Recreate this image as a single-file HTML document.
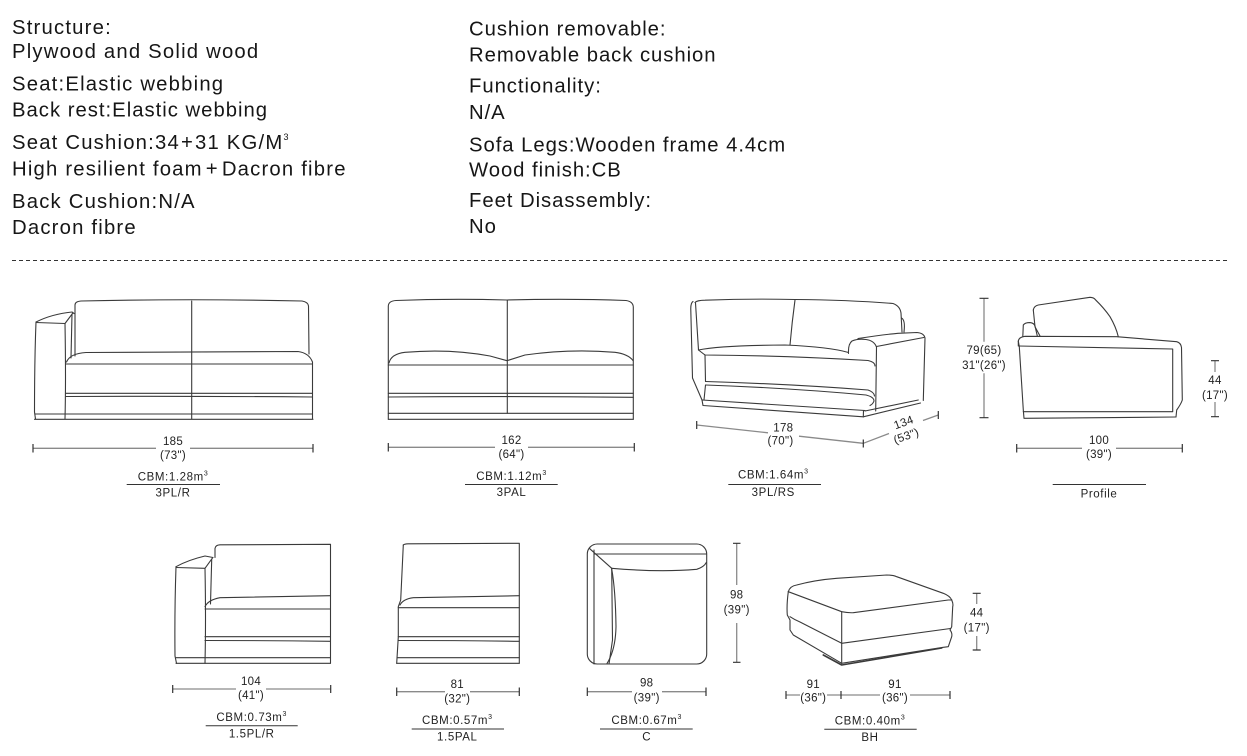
<!DOCTYPE html>
<html><head><meta charset="utf-8"><style>
html,body{margin:0;padding:0;background:#fff;}
svg{display:block;}
.t{font-family:"Liberation Sans",sans-serif;font-size:20.3px;fill:#161616;letter-spacing:1.2px;}
.r{letter-spacing:0.95px;}
.d{font-family:"Liberation Sans",sans-serif;font-size:11.5px;fill:#222;text-anchor:middle;letter-spacing:0.3px;}
.c{font-family:"Liberation Sans",sans-serif;font-size:11.5px;fill:#222;text-anchor:middle;letter-spacing:0.6px;}
.s{stroke:#3a3a3a;stroke-width:1.1;fill:none;stroke-linejoin:round;stroke-linecap:round;}
.dm{stroke:#8a8a8a;stroke-width:1.3;fill:none;}
.tk{stroke:#333;stroke-width:1.2;fill:none;}
.ul{stroke:#333;stroke-width:1;fill:none;}
</style></head><body>
<svg width="1247" height="756" viewBox="0 0 1247 756" xmlns="http://www.w3.org/2000/svg">
<!-- Left column text -->
<text class="t" x="12" y="34">Structure:</text>
<text class="t" x="12" y="58">Plywood and Solid wood</text>
<text class="t" x="12" y="90.5">Seat:Elastic webbing</text>
<text class="t" x="12" y="116.5" style="letter-spacing:1px">Back rest:Elastic webbing</text>
<text class="t" x="12" y="149">Seat Cushion:34<tspan dx="1">+</tspan><tspan dx="1">31 KG/M</tspan><tspan font-size="9" dy="-9">3</tspan></text>
<text class="t" x="12" y="175.5">High resilient foam<tspan dx="3">+</tspan><tspan dx="3">Dacron fibre</tspan></text>
<text class="t" x="12" y="208">Back Cushion:N/A</text>
<text class="t" x="12" y="234">Dacron fibre</text>
<!-- Right column text -->
<text class="t r" x="469" y="35.5">Cushion removable:</text>
<text class="t r" x="469" y="61.5">Removable back cushion</text>
<text class="t r" x="469" y="92.5">Functionality:</text>
<text class="t r" x="469" y="119">N/A</text>
<text class="t r" x="469" y="151.5">Sofa Legs:Wooden frame 4.4cm</text>
<text class="t r" x="469" y="176.5">Wood finish:CB</text>
<text class="t r" x="469" y="207">Feet Disassembly:</text>
<text class="t r" x="469" y="233">No</text>
<!-- dashed separator -->
<line x1="12" y1="260.5" x2="1229" y2="260.5" stroke="#333" stroke-width="1" stroke-dasharray="4,3"/>

<!-- ===== 3PL/R ===== -->
<g class="s">
<path d="M36,322 Q34.5,360 34.5,412 L35.5,419"/>
<path d="M36,322 Q52,314 72,312 L74,313.5"/>
<path d="M36,322.5 L65,323.5 L72.5,313.5"/>
<path d="M65,323.5 Q66,380 65,419"/>
<path d="M72,314 L71,358"/>
<path d="M75,356 L75,305 Q75,301.5 81,301 Q190,298.5 302,301 Q308,302 308.5,306 L309,354"/>
<path d="M66.5,362 Q70,353.5 86,352.5 L298,351.5 Q309,353 312.5,362 L312.5,419"/>
<line x1="66" y1="364" x2="312.5" y2="364"/>
<line x1="66" y1="393.3" x2="312.5" y2="393.3"/>
<path d="M66,396.5 Q190,396 312.5,397"/>
<line x1="35" y1="414" x2="312.5" y2="414"/>
<line x1="34.5" y1="419.3" x2="313" y2="419.3"/>
<line x1="191.7" y1="301" x2="191.7" y2="419"/>
</g>
<path class="dm" d="M33,448.3 H156 M190,448.3 H313"/>
<path class="tk" d="M33,444 V452.5 M313,444 V452.5"/>
<text class="d" x="173" y="445">185</text>
<text class="d" x="173" y="459">(73")</text>
<text class="c" x="173" y="480.5">CBM:1.28m<tspan font-size="7" dy="-5">3</tspan></text>
<line class="ul" x1="126.7" y1="484.5" x2="220" y2="484.5"/>
<text class="c" x="173" y="496.5">3PL/R</text>

<!-- ===== 3PAL ===== -->
<g class="s">
<path d="M388.3,419.3 L388.3,306 Q388.5,301 396,300.5 Q450,298.5 507,300 Q570,298.5 626,300.5 Q633,301.5 633.3,307 L633.3,419.3"/>
<line x1="507.3" y1="300" x2="507.3" y2="413.3"/>
<path d="M389,363 Q391,354 405,352.3 Q450,348.5 490,356 L507,360.7 L525,355 Q570,348.5 615,352.3 Q628,354 633,360.5"/>
<line x1="388.3" y1="365" x2="633.3" y2="365"/>
<line x1="388.3" y1="393.3" x2="633.3" y2="393.3"/>
<path d="M388.3,397 Q510,396 633.3,397.3"/>
<line x1="388.3" y1="413.3" x2="633.3" y2="413.3"/>
<line x1="388.3" y1="419.3" x2="633.3" y2="419.3"/>
</g>
<path class="dm" d="M388.3,447.3 H495 M528,447.3 H634.3"/>
<path class="tk" d="M388.3,443 V451.5 M634.3,443 V451.5"/>
<text class="d" x="511.5" y="444">162</text>
<text class="d" x="511.5" y="458">(64")</text>
<text class="c" x="511.5" y="480">CBM:1.12m<tspan font-size="7" dy="-5">3</tspan></text>
<line class="ul" x1="465" y1="484.5" x2="557.7" y2="484.5"/>
<text class="c" x="511.5" y="496">3PAL</text>

<!-- ===== 3PL/RS ===== -->
<g class="s">
<path d="M693,301.5 Q690.5,303 690.8,310 L692.5,378 L702,400"/>
<path d="M695,302.5 Q697,300.3 705,300.2 Q750,298.5 795,299.5"/>
<path d="M695.5,303 L698.5,350"/>
<path d="M795,300 Q792,322 790,345"/>
<path d="M795,299.5 Q850,300 893,303.5 Q900,306 901,313 L902,332"/>
<path d="M901.5,318 Q905.5,320 904,332"/>
<path d="M698.5,350 Q703,353.5 705,355 Q785,355.5 868,360.5 Q875,362 875,366"/>
<path d="M698.5,350 Q720,345.5 785,345 Q830,347 848.5,352.5"/>
<path d="M705,355 L705.5,381.5"/>
<path d="M705.5,381.5 Q790,384 868,390 Q874,392 874.5,396"/>
<path d="M705.5,385 Q790,388 866,395 Q874,397 874,401 Q873,404 870,405.5"/>
<path d="M705.5,385 L704,400"/>
<path d="M702,400 L865,410.5"/>
<path d="M702,400 L703,405.5 L863.3,416.8"/>
<path d="M863.5,410.5 L863.3,416.8"/>
<path d="M865,411 L918.3,400"/>
<path d="M863.3,416.8 L920.5,403"/>
<path d="M848.5,353.5 Q848,344 852,341 Q858,338.5 866,339.5 Q874,340.5 876.5,347 L875.7,411"/>
<path d="M858,338.6 Q880,335 898,333.3 L917,332.5 Q924,333 925,338 L923.3,400.5"/>
<path d="M876.5,346.5 L923.8,337.5"/>
</g>
<path class="dm" d="M696.7,425 L768,432.8 M799,436.2 L863.3,443.3"/>
<path class="dm" d="M863.3,443.3 L889,433.5 M923,420.5 L938.3,415"/>
<path class="tk" d="M696.7,421 V429 M863.3,439.5 V447.5 M938.3,411 V419"/>
<text class="d" x="783.3" y="431.5">178</text>
<text class="d" x="780.5" y="444.5">(70")</text>
<text class="d" transform="translate(905,426) rotate(-20)" x="0" y="0">134</text>
<text class="d" transform="translate(907.5,439.5) rotate(-20)" x="0" y="0">(53")</text>
<text class="c" x="773.3" y="478.5">CBM:1.64m<tspan font-size="7" dy="-5">3</tspan></text>
<line class="ul" x1="728.3" y1="484.5" x2="821" y2="484.5"/>
<text class="c" x="773.3" y="496">3PL/RS</text>

<!-- ===== Profile ===== -->
<g class="s">
<path d="M1033.3,310 Q1034,306 1038.3,305 L1090,297.3 Q1094,297.5 1095.5,299.8 Q1104,308 1110,316.7 Q1116,327 1118.3,336.7"/>
<path d="M1033.3,310 L1035,326.7 L1040,336"/>
<path d="M1022.8,336.7 L1023.3,325 Q1025,322.6 1030,322.6 Q1034,323 1035,326 L1037.3,336"/>
<path d="M1018.3,346 L1018.3,341 Q1019,337 1025,336.3 L1116.7,336.7 L1176.7,341.7 Q1181,343 1181.5,347.5 L1182.3,400 Q1181,404 1176.7,410 L1176,417"/>
<path d="M1018.3,341 L1019.3,346.7 L1023.3,410 L1024,418.3 L1176,417"/>
<path d="M1018.5,346 L1172.7,349 L1172.7,411.7 L1023.3,411.7"/>
</g>
<path class="dm" d="M984,298.3 V341.7 M984,373.3 V417.7"/>
<path class="tk" d="M979.5,298.3 H988.5 M979.5,417.7 H988.5"/>
<text class="d" x="984" y="354">79(65)</text>
<text class="d" x="984" y="369">31"(26")</text>
<path class="dm" d="M1215,360.7 V372 M1215,402 V416.7"/>
<path class="tk" d="M1211,360.7 H1219 M1211,416.7 H1219"/>
<text class="d" x="1215" y="384">44</text>
<text class="d" x="1215" y="399">(17")</text>
<path class="dm" d="M1016.7,448.3 H1082 M1116,448.3 H1182.3"/>
<path class="tk" d="M1016.7,444 V452.5 M1182.3,444 V452.5"/>
<text class="d" x="1099" y="444">100</text>
<text class="d" x="1099" y="458">(39")</text>
<line class="ul" x1="1052.7" y1="484.5" x2="1146" y2="484.5"/>
<text class="c" x="1099" y="497.5">Profile</text>

<!-- ===== 1.5PL/R ===== -->
<g class="s">
<path d="M176,566.7 Q174.5,610 175,656 L176.5,663.3"/>
<path d="M176,566.7 Q188,560 205,556 L213,557.5"/>
<path d="M176,567.5 L205,568.3 L212.7,557.7"/>
<path d="M205,568.3 Q206,620 205,663.3"/>
<path d="M211.7,559.5 L210.5,604"/>
<path d="M215,557.5 L215,548.5 Q215.5,545 220,544.8 L330.5,544.3 L330.5,663.3"/>
<path d="M205,606.7 Q208,600 220,597.7 L330.5,595.7"/>
<line x1="205" y1="609" x2="330.5" y2="609"/>
<line x1="205" y1="636.7" x2="330.5" y2="636.7"/>
<path d="M205,640.5 Q270,640.5 330.5,641.3"/>
<line x1="176" y1="657.7" x2="330.5" y2="657.7"/>
<line x1="176" y1="663.3" x2="330.5" y2="663.3"/>
</g>
<path class="dm" d="M172.7,689 H236 M266,689 H330.7"/>
<path class="tk" d="M172.7,685 V693 M330.7,685 V693"/>
<text class="d" x="251" y="685">104</text>
<text class="d" x="251" y="699">(41")</text>
<text class="c" x="251.7" y="721">CBM:0.73m<tspan font-size="7" dy="-5">3</tspan></text>
<line class="ul" x1="205.7" y1="725.7" x2="297.7" y2="725.7"/>
<text class="c" x="251.7" y="737.7">1.5PL/R</text>

<!-- ===== 1.5PAL ===== -->
<g class="s">
<path d="M403.3,545 L400.7,600 L398.3,606.7 L398.3,636.7 L396.7,663.3"/>
<path d="M403.3,545 Q404,544 408,543.8 L519.3,543.3 L519.3,663.3"/>
<path d="M400,605 Q403,599 413.3,597.7 L519.3,595.7"/>
<line x1="398.3" y1="607.7" x2="519.3" y2="607.7"/>
<line x1="398.3" y1="636.7" x2="519.3" y2="636.7"/>
<path d="M398.3,640.5 Q460,640.5 519.3,641.3"/>
<line x1="397.5" y1="657.7" x2="519.3" y2="657.7"/>
<line x1="396.7" y1="663.3" x2="519.3" y2="663.3"/>
</g>
<path class="dm" d="M396.7,691.7 H445 M470,691.7 H519.3"/>
<path class="tk" d="M396.7,687.5 V696 M519.3,687.5 V696"/>
<text class="d" x="457.3" y="688">81</text>
<text class="d" x="457.3" y="702.5">(32")</text>
<text class="c" x="457.3" y="724">CBM:0.57m<tspan font-size="7" dy="-5">3</tspan></text>
<line class="ul" x1="411.7" y1="729" x2="504" y2="729"/>
<text class="c" x="457.3" y="740.5">1.5PAL</text>

<!-- ===== C ===== -->
<g class="s">
<rect x="587.3" y="544" width="119.4" height="120" rx="10" ry="10"/>
<line x1="594" y1="550" x2="594" y2="664"/>
<line x1="594" y1="554" x2="706.5" y2="554"/>
<line x1="589.3" y1="548.3" x2="611.7" y2="568.3"/>
<path d="M611.7,568.3 Q660,572.5 696.7,569.3 Q704,567 706.3,562.5"/>
<path d="M611.7,568.3 L612.5,640 L609,664"/>
<path d="M611.7,569 Q615.5,590 616,626.7 Q615.5,650 607,663.5"/>
</g>
<path class="dm" d="M736.7,543.3 V585 M736.7,623 V662.3"/>
<path class="tk" d="M733,543.3 H740.5 M733,662.3 H740.5"/>
<text class="d" x="736.7" y="598.3">98</text>
<text class="d" x="736.7" y="613.3">(39")</text>
<path class="dm" d="M587.3,691.7 H632 M662,691.7 H706"/>
<path class="tk" d="M587.3,687.5 V696 M706,687.5 V696"/>
<text class="d" x="646.7" y="686.7">98</text>
<text class="d" x="646.7" y="701.3">(39")</text>
<text class="c" x="646.7" y="724">CBM:0.67m<tspan font-size="7" dy="-5">3</tspan></text>
<line class="ul" x1="600" y1="729" x2="692.7" y2="729"/>
<text class="c" x="646.7" y="740.5">C</text>

<!-- ===== BH ===== -->
<g class="s">
<path d="M788.3,591.7 Q790,586 796.7,585 Q815,580 836.7,578.3 L886.7,575 Q893,575 896.7,576.7 L943.3,593.3 Q950,596 951.7,600"/>
<path d="M788.3,591.7 L841.7,611.7 Q848,613 853.3,612.7 L948.3,600 L951.7,600"/>
<path d="M788.3,591.7 Q786.5,605 787.3,615 L790,620 L790,630 L793.3,635 L841.7,663.3"/>
<line x1="841.7" y1="611.7" x2="841.7" y2="663.3"/>
<path d="M951.7,600 Q953.5,604 952.7,606.7 L951.7,626.7 L950,630 Q952.5,633 951.7,636.7 L948.3,646.7 L943.3,647.3 L841.7,663.3"/>
<path d="M790,616.7 Q795,620 800,622 L841.7,643.3 L950.5,628.5"/>
<path d="M823.3,655 L841.7,665 L941.7,648" stroke-width="1.6"/>
</g>
<path class="dm" d="M976.7,593.3 V604 M976.7,636 V650"/>
<path class="tk" d="M972.7,593.3 H980.7 M972.7,650 H980.7"/>
<text class="d" x="976.7" y="616.7">44</text>
<text class="d" x="976.7" y="631.7">(17")</text>
<path class="dm" d="M786,695 H800 M827,695 H880 M910,695 H950"/>
<path class="tk" d="M786,691 V699 M841,691 V699 M950,691 V699"/>
<text class="d" x="813.3" y="688">91</text>
<text class="d" x="813.3" y="701.5">(36")</text>
<text class="d" x="895" y="688">91</text>
<text class="d" x="895" y="701.5">(36")</text>
<text class="c" x="870" y="724.5">CBM:0.40m<tspan font-size="7" dy="-5">3</tspan></text>
<line class="ul" x1="824.3" y1="729.3" x2="916.7" y2="729.3"/>
<text class="c" x="870" y="741">BH</text>
</svg>
</body></html>
